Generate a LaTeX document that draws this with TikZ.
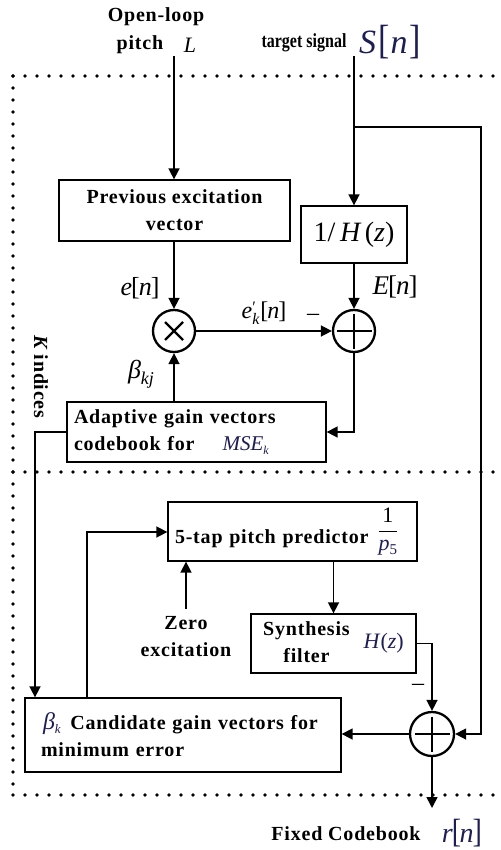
\documentclass[tikz,border=0pt]{standalone}
\usepackage{fontspec}
\usepackage{graphicx}
\usetikzlibrary{arrows.meta,calc}
\setmainfont{Liberation Serif}
\newfontfamily\lblfont{Liberation Serif}[LetterSpace=4]
\newfontfamily\varfont{Liberation Serif}
\definecolor{navy}{RGB}{28,30,84}
\newcommand\fsz[1]{\fontsize{#1}{#1}\selectfont}
% italic variable, black or navy
\newcommand\vi[1]{{\varfont\mdseries\itshape #1}}
\newcommand\vn[1]{{\varfont\mdseries\itshape\color{navy}#1}}
% upright symbol in the variable font
\newcommand\vu[1]{{\varfont\mdseries\upshape #1}}
% stretched square bracket
\newcommand\tallbr[1]{\scalebox{1}[1.2]{\vu{#1}}}

\begin{document}
\begin{tikzpicture}[x=1pt,y=-1pt,
  lbl/.style={font=\lblfont\bfseries\fontsize{20}{27}\selectfont, inner sep=0pt},
  blk/.style={lbl, draw, line width=1.3pt},
  wire/.style={line width=1.6pt},
  arr/.style={wire, -{Triangle[length=11pt,width=11pt]}},
  dotline/.style={line width=3.6pt, line cap=round, dash pattern=on 0pt off 12pt},
  junc/.style={circle, draw, line width=2.3pt, minimum size=42pt, inner sep=0pt},
  mulsign/.style={path picture={
    \draw[line width=2.3pt]
      ($(path picture bounding box.center)+(-9,-9)$) -- ++(18,18)
      ($(path picture bounding box.center)+(-9,9)$) -- ++(18,-18);}},
  addsign/.style={path picture={
    \draw[line width=2.6pt]
      ($(path picture bounding box.center)+(-17.5,0)$) -- ++(35,0)
      ($(path picture bounding box.center)+(0,-17.5)$) -- ++(0,35);}},
  var/.style={inner sep=0pt, font=\varfont\fsz{26}}
]
\useasboundingbox (0,0) rectangle (500,850);

% dotted frames of the two search stages
\draw[dotline] (13,76) -- (500,76);
\draw[dotline] (13,76) -- (13,795);
\draw[dotline] (13,472) -- (500,472);
\draw[dotline] (13,795) -- (500,795);

% inputs
\node[lbl] (openloop) at (156,17) {Open-loop};
\node[lbl] (pitchtxt) at (140,45) {pitch};
\node[var, font=\varfont\fsz{22}] (Lvar) at (190,45) {\vi{L}};
\node[inner sep=0pt, font=\varfont\bfseries\fsz{20}] (target) at (304,43) {\scalebox{0.8}[1]{target signal}};
\node[var, font=\varfont\fsz{34}] (Svar) at (390,42)
  {\vn{S}\kern2pt{\color{navy}\tallbr{[}}\kern1pt\vn{n}\kern2pt{\color{navy}\tallbr{]}}};
\coordinate (Ltop) at (174,56);
\coordinate (Stop) at (354,56);
\coordinate (tap) at (354,127);
\coordinate (rtop) at (481,127);

% adaptive codebook stage
\node[blk, minimum width=231pt, minimum height=61pt, align=center] (pev) at (174.5,210.5)
  {Previous excitation\\vector};
\node[blk, minimum width=106pt, minimum height=57pt, font=\varfont\fsz{28}] (invh) at (354,234.5)
  {1/\,\vi{H}\,(\vi{z})};
\node[junc, mulsign] (mult) at (174,331) {};
\node[junc, addsign] (sum1) at (354,331) {};
\node[blk, minimum height=60pt, text width=245pt, inner xsep=7pt, align=left] (agv) at (196.5,432)
  {Adaptive gain vectors\\codebook for\hspace{28pt}{\fsz{21}\vn{MSE}}\raisebox{-4pt}{\fsz{12}\vn{k}}};

\node[var] (en) at (140,288) {\vi{e}\kern-1pt\vu{[}\kern-1pt\vi{n}\kern-1pt\vu{]}};
\node[var, font=\varfont\fsz{27}] (En) at (395,287) {\vi{E}\kern-1pt\vu{[}\kern-1pt\vi{n}\kern-1pt\vu{]}};
\node[var, font=\varfont\fsz{24}] (ekn) at (264,315)
  {\vi{e}\raisebox{-6pt}{\fsz{16}\begin{tabular}[b]{@{}l@{}}\vu{′}\\[-4pt]\vi{k}\end{tabular}}\kern1pt\vu{[}\kern-1pt\vi{n}\kern-1pt\vu{]}};
\node[var, font=\varfont\fsz{24}] (minusA) at (313,317) {–};
\node[var] (bkj) at (141,374) {\vi{β}\raisebox{-6pt}{\fsz{18}\vi{kj}}};
\node[lbl, rotate=-90] (kidx) at (41,377) {\itshape K\upshape\ indices};

% fixed codebook stage
\node[blk, minimum height=59pt, text width=235pt, inner xsep=7pt, align=left] (p5) at (292.5,531.5)
  {5-tap pitch predictor\hspace{9pt}\raisebox{7pt}{$\displaystyle{\mbox{\varfont\mdseries\fsz{22}1}\above1.2pt\mbox{\fsz{22}\vn{p}\raisebox{-4pt}{\fsz{15}\color{navy}\vu{5}}}}$}};
\node[lbl, align=center] (zero) at (186,637) {Zero\\excitation};
\node[blk, minimum width=165pt, minimum height=59pt] (synth) at (333.5,643.5)
  {\begin{tabular}{@{}c@{}}Synthesis\\filter\end{tabular}\hspace{14pt}{\color{navy}\varfont\mdseries\fsz{22}\textit{H}(\textit{z})}\hspace{-12pt}};
\node[junc, addsign, minimum size=44pt] (sum2) at (432,734) {};
\node[var, font=\varfont\fsz{24}] (minusB) at (418,687) {–};
\node[blk, minimum height=74pt, text width=284pt, inner xsep=16pt, align=left] (cand) at (183,735)
  {\hspace{2pt}{\fsz{24}\vn{β}}\raisebox{-4pt}{\fsz{13}\vn{k}}\hspace{3pt} Candidate gain vectors for\\minimum error};

% output
\node[lbl] (fixcb) at (346,834) {Fixed Codebook};
\node[var, font=\varfont\fsz{28}] (rvar) at (462,833)
  {\vn{r}\kern-1pt{\color{navy}\tallbr{[}}\kern-1.5pt\vn{n}\kern-1pt{\color{navy}\tallbr{]}}};
\coordinate (outp) at (432,808);
\coordinate (kx) at (35,432);
\coordinate (fb) at (87,532);

% connectors
\draw[arr] (Ltop) -- (Ltop |- pev.north);
\draw[arr] (Stop) -- (Stop |- invh.north);
\draw[arr] (tap) -- (rtop) -- (rtop |- sum2.east) -- (sum2.east);
\draw[arr] (mult |- pev.south) -- (mult.north);
\draw[arr] (invh.south) -- (sum1.north);
\draw[arr] (mult.east) -- (sum1.west);
\draw[arr] (sum1.south) -- (sum1 |- agv.east) -- (agv.east);
\draw[arr] (mult |- agv.north) -- (mult.south);
\draw[arr] (agv.west) -- (kx) -- (kx |- cand.north);
\draw[arr] (fb |- cand.north) -- (fb) -- (fb -| p5.west);
\draw[arr] ($(zero.north)+(0,-8)$) -- (zero |- p5.south);
\draw[arr] (synth |- p5.south) -- (synth.north);
\draw[arr] (synth.east) -- (sum2 |- synth.east) -- (sum2.north);
\draw[arr] (sum2.west) -- (sum2.west -| cand.east);
\draw[arr] (sum2.south) -- (outp);
\end{tikzpicture}
\end{document}
